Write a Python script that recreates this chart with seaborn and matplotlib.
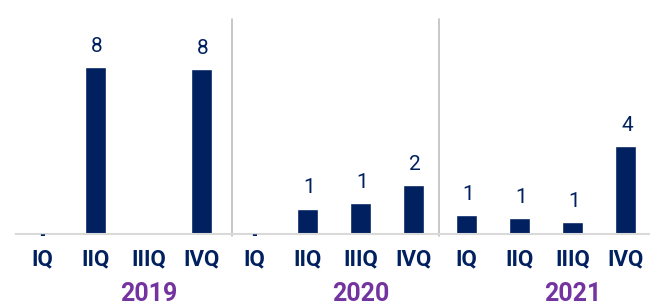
#!/usr/bin/env python3

import matplotlib
matplotlib.use("Agg")
import matplotlib.pyplot as plt
import matplotlib.transforms as mtransforms
import pandas as pd
import seaborn as sns

# Adatok
years = ["2019", "2020", "2021"]
quarters = ["IQ", "IIQ", "IIIQ", "IVQ"]
values = [0.0, 8.0, 0.0, 7.9,
          0.0, 1.2, 1.45, 2.35,
          0.9, 0.75, 0.55, 4.2]
labels = ["-", "8", "", "8",
          "-", "1", "1", "2",
          "1", "1", "1", "4"]

NAVY = "#002060"
PURPLE = "#7434A0"


def build_df() -> pd.DataFrame:
    rows = []
    i = 0
    for y in years:
        for q in quarters:
            rows.append({"period": f"{y} {q}", "year": y, "quarter": q,
                         "value": values[i], "label": labels[i]})
            i += 1
    return pd.DataFrame(rows)


def main() -> None:
    sns.set_theme(style="white")
    plt.rcParams["font.family"] = ["Roboto", "DejaVu Sans"]

    df = build_df()

    fig = plt.figure(figsize=(6.5, 3.07), dpi=100)
    ax = fig.add_axes([16 / 650, 73.5 / 307, 1 - 16 / 650, 223.5 / 307])

    sns.barplot(data=df, x="period", y="value", color=NAVY, width=0.4,
                saturation=1, ax=ax)

    ax.set_xlim(-0.5, 11.46)
    ax.set_ylim(0, 223.5 / 20.8)

    # értékcímkék
    for i, row in df.iterrows():
        if not row["label"]:
            continue
        if row["label"] == "-":
            ax.annotate("-", (i, 0), xytext=(0, -1.5), textcoords="offset points",
                        ha="center", va="center", fontsize=11, color=NAVY,
                        fontweight="bold", annotation_clip=False)
        else:
            ax.annotate(row["label"], (i, row["value"]), xytext=(1, 8),
                        textcoords="offset points", ha="center", va="bottom",
                        fontsize=15, color=NAVY)

    # elválasztó vonalak az évek között
    for x in (3.58, 7.48):
        ax.plot([x, x], [-0.12, 10.3], color="#BFBFBF", lw=1.2,
                clip_on=False, zorder=0)

    ax.set_xticks(range(len(df)))
    ax.set_xticklabels(df["quarter"], fontsize=16, fontweight="bold", color=NAVY)
    ax.tick_params(axis="x", length=0, pad=11)
    ax.set_yticks([])
    ax.set_xlabel("")
    ax.set_ylabel("")

    for s in ("top", "right", "left"):
        ax.spines[s].set_visible(False)
    ax.spines["bottom"].set_color("#D9D9D9")
    ax.spines["bottom"].set_linewidth(1.5)

    # évcímkék a IIIQ pozíció alatt
    trans = mtransforms.blended_transform_factory(ax.transData, ax.transAxes)
    for k, y in enumerate(years):
        ax.text(k * 4 + 2, -0.215, y, transform=trans, ha="center", va="top",
                fontsize=18, fontweight="bold", color=PURPLE)

    fig.savefig("out.png", dpi=100)
    plt.close(fig)


if __name__ == "__main__":
    main()
